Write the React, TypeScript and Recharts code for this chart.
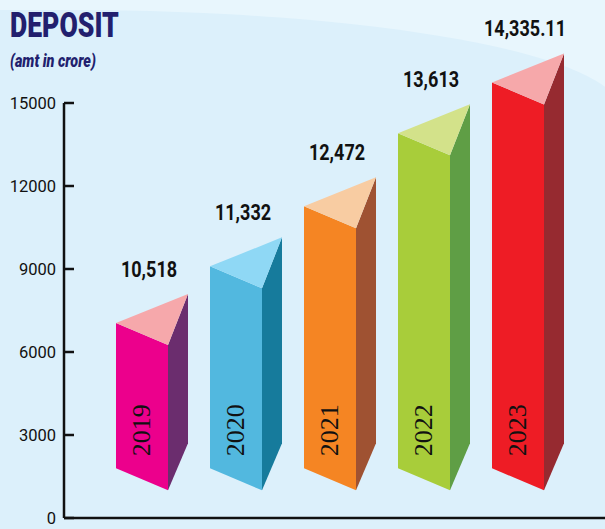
import { Bar, BarChart, LabelList, XAxis, YAxis } from "recharts";

const years = ["2019", "2020", "2021", "2022", "2023"];
const depositLabels = ["10,518", "11,332", "12,472", "13,613", "14,335.11"];
// front edge of each prism, read against the y axis (the art is not to scale)
const barBottom = [1000, 1000, 1000, 1000, 1000];
const barTop = [6250, 8300, 10470, 13110, 14950];
const yTicks = [0, 3000, 6000, 9000, 12000, 15000];

const faceColors = ["#ec008c", "#52b8df", "#f58523", "#a8cd3a", "#ee1c25"];
const sideColors = ["#6b2d6e", "#167b9c", "#9f5232", "#5f9e45", "#962a30"];
const topColors = ["#f6a8ab", "#8fd8f5", "#f8cca2", "#d3e28a", "#f6a8aa"];

const data = years.map((year, i) => ({
  year,
  range: [barBottom[i], barTop[i]],
  label: depositLabels[i],
}));

function Prism(props: any) {
  const { x, y, width, height, index } = props;
  const x1 = x + width;
  const x2 = x1 + 20;
  const yb = y + height;
  return (
    <g>
      <polygon
        points={`${x},${y - 22} ${x1},${y} ${x1},${yb} ${x},${yb - 22}`}
        fill={faceColors[index]}
      />
      <polygon
        points={`${x1},${y} ${x2},${y - 51} ${x2},${yb - 47} ${x1},${yb}`}
        fill={sideColors[index]}
      />
      <polygon
        points={`${x},${y - 22} ${x1},${y} ${x2},${y - 51}`}
        fill={topColors[index]}
      />
    </g>
  );
}

function ValueLabel(props: any) {
  const { x, y, value } = props;
  return (
    <g transform={`translate(${x + 33},${y - 68}) scale(0.82,1)`}>
      <text
        x={0}
        y={0}
        textAnchor="middle"
        fontFamily="Roboto, sans-serif"
        fontWeight={700}
        fontSize={22}
        fill="#111"
      >
        {value}
      </text>
    </g>
  );
}

function YearLabel(props: any) {
  const { x, y, height, value } = props;
  const cx = x + 26;
  const cy = y + height - 60;
  return (
    <text
      x={cx}
      y={cy}
      transform={`rotate(-90,${cx},${cy})`}
      textAnchor="middle"
      dominantBaseline="central"
      fontFamily="'Liberation Serif', serif"
      fontSize={26}
      fill="#111"
    >
      {value}
    </text>
  );
}

export default function App() {
  return (
    <div
      style={{
        position: "absolute",
        left: 0,
        top: 0,
        width: 605,
        height: 529,
        overflow: "hidden",
        background: "#e8f6fd",
      }}
    >
      <div
        style={{
          position: "absolute",
          left: -20,
          top: 10,
          width: 640,
          height: 600,
          background: "#dcf0fb",
          borderTopRightRadius: "550px 100px",
        }}
      />
      <div
        style={{
          position: "absolute",
          left: 10,
          top: 3,
          fontFamily: "Roboto, sans-serif",
          fontWeight: 900,
          fontSize: 35,
          color: "#221f6e",
          transform: "scaleX(0.76)",
          transformOrigin: "left",
          lineHeight: "46px",
        }}
      >
        DEPOSIT
      </div>
      <div
        style={{
          position: "absolute",
          left: 10,
          top: 50,
          fontFamily: "Roboto, sans-serif",
          fontWeight: 900,
          fontStyle: "italic",
          fontSize: 18,
          color: "#221f6e",
          transform: "scaleX(0.8)",
          transformOrigin: "left",
          lineHeight: "22px",
        }}
      >
        (amt in crore)
      </div>
      <div style={{ position: "absolute", left: 0, top: 0 }}>
        <BarChart
          width={605}
          height={529}
          data={data}
          margin={{ top: 103, right: 0, bottom: 10, left: 0 }}
          barSize={52}
        >
          <XAxis
            dataKey="year"
            height={1}
            tick={false}
            tickLine={false}
            axisLine={{ stroke: "#111", strokeWidth: 2.5 }}
            padding={{ left: 31, right: 40 }}
          />
          <YAxis
            width={64}
            domain={[0, 15000]}
            ticks={yTicks}
            interval={0}
            tickSize={-10}
            tickMargin={18}
            tickLine={{ stroke: "#111", strokeWidth: 2.5 }}
            axisLine={{ stroke: "#111", strokeWidth: 2.5 }}
            tick={{ fill: "#111", fontSize: 16.5, fontFamily: "Roboto, sans-serif" }}
          />
          <Bar dataKey="range" shape={Prism} isAnimationActive={false}>
            <LabelList dataKey="label" content={ValueLabel} />
            <LabelList dataKey="year" content={YearLabel} />
          </Bar>
        </BarChart>
      </div>
    </div>
  );
}
